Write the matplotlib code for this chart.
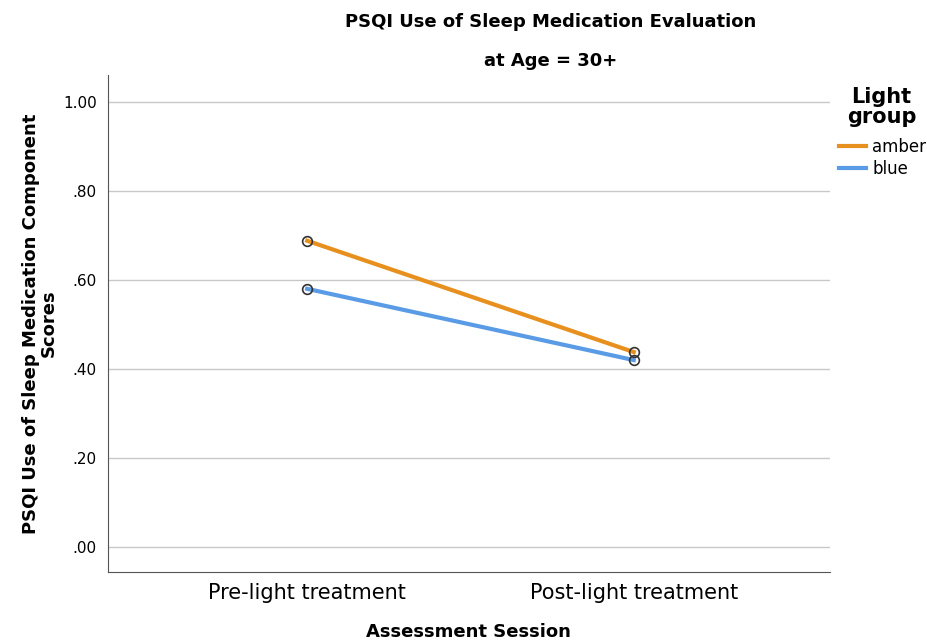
import matplotlib.pyplot as plt

sessions = ["Pre-light treatment", "Post-light treatment"]
groups = ["amber", "blue"]
amber_means = [0.688, 0.438]
blue_means = [0.580, 0.420]
yticks = [0.0, 0.2, 0.4, 0.6, 0.8, 1.0]
ytick_labels = [".00", ".20", ".40", ".60", ".80", "1.00"]

colors = {"amber": "#E8901E", "blue": "#5A9BE6"}

fig = plt.figure(figsize=(9.27, 6.42), dpi=100)
ax = fig.add_axes([0.1165, 0.109, 0.7785, 0.774])

x = list(range(len(sessions)))
handles = []
for name, vals in zip(groups, [amber_means, blue_means]):
    ln, = ax.plot(x, vals, color=colors[name], lw=3, label=name, zorder=3)
    ax.plot(x, vals, "o", ms=7, mfc="none", mec="#333333", mew=1.2, zorder=4)
    handles.append(ln)

ax.set_xlim(-0.61, 1.6)
ax.set_ylim(-0.056, 1.06)
ax.set_yticks(yticks)
ax.set_yticklabels(ytick_labels, fontsize=11)
ax.set_xticks(x)
ax.set_xticklabels(sessions, fontsize=15)
ax.tick_params(axis="both", length=0)
ax.tick_params(axis="y", pad=8)
ax.tick_params(axis="x", pad=8)
ax.yaxis.grid(True, color="#c8c8c8", lw=1)
ax.set_axisbelow(True)
for s in ["top", "right"]:
    ax.spines[s].set_visible(False)
for s in ["left", "bottom"]:
    ax.spines[s].set_color("#555555")

ax.set_xlabel("Assessment Session", fontsize=13, fontweight="bold", labelpad=14)
ax.set_ylabel("PSQI Use of Sleep Medication Component\nScores", fontsize=13,
              fontweight="bold", labelpad=4, linespacing=0.95)

fig.text(0.594, 0.965, "PSQI Use of Sleep Medication Evaluation", ha="center",
         va="center", fontsize=13, fontweight="bold")
fig.text(0.594, 0.905, "at Age = 30+", ha="center", va="center",
         fontsize=13, fontweight="bold")

# legend title drawn separately so the gap above the entries can be set
fig.text(0.951, 0.833, "Light\ngroup", ha="center", va="center", fontsize=15,
         fontweight="bold", linespacing=1.0)
fig.legend(handles, groups, loc="upper left", bbox_to_anchor=(0.905, 0.785),
           frameon=False, fontsize=12, handlelength=1.6, handletextpad=0.4,
           labelspacing=0.25, borderaxespad=0, borderpad=0)

fig.savefig("out.png", dpi=100)
